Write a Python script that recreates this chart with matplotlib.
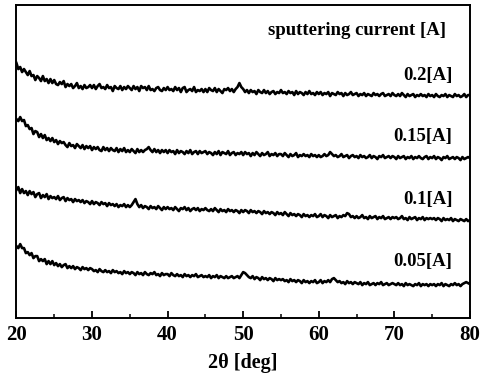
import numpy as np
import matplotlib
matplotlib.use('Agg')
import matplotlib.pyplot as plt
from matplotlib.ticker import MultipleLocator

plt.rcParams['font.family'] = ['Liberation Serif', 'DejaVu Serif']
plt.rcParams['font.weight'] = 'bold'

# eje 2theta, paso 0.25 deg
dos_theta = np.arange(20.0, 80.001, 0.25)

# intensidades (u.a.), ya apiladas
i_020 = [255, 249, 251, 246, 249, 246, 243, 247, 242, 243, 238, 242, 240, 237, 242, 237, 239, 235, 239, 235,
         238, 234, 233, 236, 234, 237, 231, 234, 232, 234, 230, 232, 235, 230, 232, 229, 233, 230, 231, 233,
         230, 233, 229, 232, 234, 230, 231, 229, 233, 230, 231, 227, 232, 230, 229, 232, 228, 231, 229, 232,
         230, 228, 232, 229, 231, 227, 232, 230, 231, 228, 232, 228, 229, 227, 230, 231, 228, 227, 230, 228,
         231, 228, 229, 227, 231, 228, 230, 226, 230, 231, 226, 228, 229, 227, 231, 226, 228, 227, 229, 226,
         229, 226, 230, 228, 227, 230, 226, 229, 227, 225, 229, 228, 230, 227, 229, 226, 229, 231, 235, 231,
         229, 226, 228, 225, 228, 226, 227, 224, 228, 226, 225, 228, 225, 227, 224, 226, 227, 224, 226, 225,
         228, 225, 226, 224, 227, 225, 226, 223, 227, 224, 226, 225, 223, 226, 224, 227, 224, 225, 223, 226,
         224, 226, 223, 225, 224, 226, 222, 225, 224, 223, 226, 224, 225, 222, 225, 223, 224, 226, 223, 224,
         225, 222, 224, 223, 225, 222, 224, 223, 222, 225, 223, 224, 222, 224, 225, 222, 223, 224, 222, 225,
         223, 222, 224, 222, 225, 223, 221, 224, 222, 223, 224, 221, 223, 222, 224, 222, 223, 221, 224, 222,
         223, 221, 224, 222, 221, 223, 222, 224, 221, 223, 222, 221, 224, 222, 223, 221, 222, 224, 221, 223,
         223]
i_015 = [199, 197, 201, 197, 198, 192, 193, 189, 190, 184, 187, 186, 181, 184, 180, 183, 178, 180, 177, 180,
         176, 178, 174, 177, 175, 176, 173, 171, 175, 172, 173, 170, 174, 172, 170, 173, 169, 172, 170, 172,
         168, 171, 169, 171, 168, 167, 171, 168, 170, 167, 170, 168, 167, 170, 166, 169, 167, 170, 166, 168,
         166, 169, 167, 165, 169, 166, 168, 166, 168, 169, 171, 168, 166, 169, 166, 168, 165, 168, 166, 168,
         165, 168, 166, 167, 164, 168, 165, 167, 166, 164, 167, 165, 168, 164, 166, 167, 164, 167, 165, 166,
         167, 164, 166, 165, 163, 166, 164, 167, 163, 166, 165, 164, 167, 163, 165, 166, 163, 165, 164, 166,
         163, 166, 164, 165, 162, 165, 163, 166, 164, 162, 165, 163, 164, 166, 162, 164, 163, 165, 162, 164,
         164, 162, 165, 163, 161, 164, 162, 163, 165, 161, 163, 162, 164, 162, 163, 161, 164, 162, 163, 161,
         163, 161, 162, 164, 162, 163, 166, 164, 162, 163, 161, 162, 164, 161, 162, 163, 160, 162, 163, 161,
         162, 160, 163, 161, 162, 160, 161, 163, 160, 162, 161, 159, 162, 161, 163, 160, 161, 162, 160, 162,
         161, 159, 162, 160, 161, 162, 159, 161, 160, 162, 159, 161, 160, 162, 160, 159, 161, 162, 159, 161,
         160, 162, 159, 161, 160, 158, 161, 160, 162, 159, 160, 161, 159, 161, 160, 158, 161, 159, 160, 161,
         160]
i_010 = [128, 131, 125, 129, 125, 127, 123, 127, 124, 126, 121, 124, 125, 120, 123, 121, 124, 119, 122, 120,
         121, 119, 122, 118, 120, 121, 117, 120, 118, 119, 116, 119, 117, 118, 116, 118, 115, 117, 116, 114,
         117, 114, 116, 115, 113, 116, 114, 115, 112, 115, 113, 114, 112, 114, 111, 113, 112, 114, 111, 113,
         111, 113, 116, 119, 114, 111, 113, 110, 112, 111, 109, 112, 110, 111, 109, 112, 110, 108, 111, 109,
         111, 109, 110, 108, 111, 109, 107, 110, 109, 111, 108, 110, 107, 109, 110, 108, 110, 107, 109, 108,
         110, 108, 107, 109, 107, 110, 108, 106, 109, 107, 108, 106, 109, 107, 108, 106, 108, 107, 105, 108,
         106, 108, 107, 105, 108, 106, 107, 105, 107, 106, 104, 107, 105, 106, 104, 106, 105, 103, 106, 104,
         105, 103, 106, 104, 102, 105, 103, 104, 102, 104, 103, 101, 104, 102, 103, 101, 103, 102, 104, 101,
         102, 104, 101, 103, 102, 100, 103, 101, 102, 103, 100, 102, 101, 103, 102, 105, 104, 101, 102, 100,
         102, 100, 101, 103, 100, 101, 99, 102, 100, 101, 102, 99, 101, 100, 102, 99, 100, 101, 99, 101,
         100, 101, 99, 100, 102, 99, 100, 98, 101, 99, 100, 101, 98, 100, 99, 101, 98, 100, 99, 100,
         99, 100, 98, 100, 99, 97, 100, 98, 99, 98, 100, 97, 99, 98, 97, 99, 98, 97, 99, 97,
         98]
i_005 = [72, 70, 74, 70, 70, 65, 66, 63, 65, 60, 62, 62, 57, 59, 57, 59, 54, 57, 54, 57,
         53, 55, 52, 54, 51, 53, 54, 50, 52, 50, 52, 49, 51, 50, 48, 51, 49, 50, 48, 50,
         49, 47, 48, 46, 49, 47, 46, 48, 46, 47, 45, 48, 46, 47, 45, 46, 44, 47, 45, 46,
         44, 46, 45, 43, 46, 44, 45, 43, 46, 44, 43, 45, 44, 46, 43, 44, 42, 45, 43, 44,
         44, 42, 45, 43, 42, 44, 42, 43, 41, 44, 42, 43, 41, 43, 42, 44, 41, 42, 43, 41,
         42, 41, 43, 40, 42, 41, 43, 40, 42, 41, 40, 42, 40, 41, 42, 40, 41, 42, 40, 43,
         46, 45, 43, 41, 40, 42, 39, 41, 40, 38, 41, 39, 40, 38, 40, 39, 37, 40, 38, 39,
         38, 39, 37, 38, 36, 39, 37, 38, 36, 38, 37, 35, 38, 36, 37, 35, 37, 36, 38, 35,
         36, 38, 35, 37, 36, 38, 36, 39, 40, 38, 36, 37, 35, 36, 34, 37, 35, 36, 34, 36,
         35, 34, 36, 33, 35, 34, 36, 33, 34, 35, 33, 35, 34, 36, 33, 34, 35, 33, 34, 35,
         34, 33, 35, 33, 34, 32, 35, 33, 34, 33, 32, 34, 33, 35, 32, 34, 33, 34, 32, 34,
         33, 34, 32, 34, 33, 35, 32, 34, 33, 32, 34, 33, 35, 33, 34, 32, 34, 35, 36, 35,
         34]

series = [i_020, i_015, i_010, i_005]
etiquetas = ['0.2[A]', '0.15[A]', '0.1[A]', '0.05[A]']
pos_etiqueta = [243, 182, 119, 57]

fig = plt.figure(figsize=(4.83, 3.87), dpi=100)
ax = fig.add_axes([0.034, 0.178, 0.939, 0.809])

for vals in series:
    ax.plot(dos_theta, vals, color='black', lw=1.9)

for txt, yy in zip(etiquetas, pos_etiqueta):
    ax.text(77.7, yy, txt, ha='right', va='center', fontsize=13.5, fontweight='bold')
ax.text(76.8, 288, 'sputtering current [A]', ha='right', va='center',
        fontsize=13.5, fontweight='bold')

ax.set_xlim(20, 80)
ax.set_ylim(0, 313)
ax.set_yticks([])
ax.xaxis.set_major_locator(MultipleLocator(10))
ax.xaxis.set_minor_locator(MultipleLocator(5))
ax.tick_params(axis='x', which='major', direction='in', length=5, width=1.3,
               labelsize=15, pad=5)
ax.tick_params(axis='x', which='minor', direction='in', length=3, width=1.1)
for lab in ax.get_xticklabels():
    lab.set_fontweight('bold')
for sp in ax.spines.values():
    sp.set_linewidth(1.4)
ax.set_xlabel('2θ [deg]', fontsize=14.5, fontweight='bold', labelpad=6)

fig.savefig('out.png', dpi=100)
